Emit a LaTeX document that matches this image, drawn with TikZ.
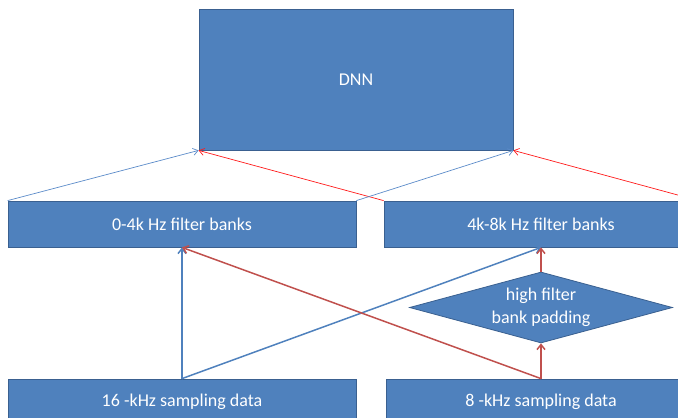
\documentclass[tikz,border=0pt]{standalone}
\usepackage{fontspec}
\setmainfont{Carlito}
\usetikzlibrary{arrows.meta,shapes.geometric}
\definecolor{boxblue}{HTML}{4F81BD}
\definecolor{boxedge}{HTML}{3A6090}
\definecolor{linkred}{HTML}{C0504D}
\definecolor{thinred}{HTML}{FF1A1A}
\definecolor{thinblue}{HTML}{5B8BC9}

\begin{document}
\begin{tikzpicture}[x=1pt,y=-1pt,
  box/.style={draw=boxedge,fill=boxblue,line width=0.8pt,text=white,inner sep=0pt,
    font=\fontsize{18}{23}\selectfont},
  padbox/.style={box,diamond,shape aspect=3.7,align=center,inner xsep=-30pt,inner ysep=-10pt},
  thinlink/.style={line width=0.7pt,-{Straight Barb[length=5pt,width=7pt]}},
  thicklink/.style={line width=1.5pt,-{Straight Barb[length=5pt,width=8pt]}}]
  \useasboundingbox (0,0) rectangle (678,418);
  \clip (0,0) rectangle (678,418);
  % boxes
  \node[box,minimum width=314pt,minimum height=141pt] (dnn) at (356,79.5) {DNN};
  \node[box,minimum width=348pt,minimum height=46pt] (low) at (182,224) {0-4k Hz filter banks};
  \node[box,minimum width=314pt,minimum height=46pt] (high) at (541,224) {4k-8k Hz filter banks};
  \node[padbox,minimum width=263pt,minimum height=71pt] (pad) at (541,307.5) {high filter\\bank padding};
  \node[box,minimum width=348pt,minimum height=46pt] (wide) at (182,402) {16 -kHz sampling data};
  \node[box,minimum width=310pt,minimum height=46pt] (narrow) at (541,402) {8 -kHz sampling data};
  % filter banks to DNN
  \draw[thinlink,thinblue] (low.north west) -- (dnn.south west);
  \draw[thinlink,thinred] (high.north west) -- (dnn.south west);
  \draw[thinlink,thinblue] (low.north east) -- (dnn.south east);
  \draw[thinlink,thinred] (high.north east) -- (dnn.south east);
  % sampling data to filter banks
  \draw[thicklink,boxblue] (wide.north) -- (low.south);
  \draw[thicklink,boxblue] (wide.north) -- (high.south);
  \draw[thicklink,linkred] (narrow.north) -- (low.south);
  \draw[thicklink,linkred] (narrow.north) -- (pad.south);
  \draw[thicklink,linkred] (pad.north) -- (high.south);
\end{tikzpicture}
\end{document}
